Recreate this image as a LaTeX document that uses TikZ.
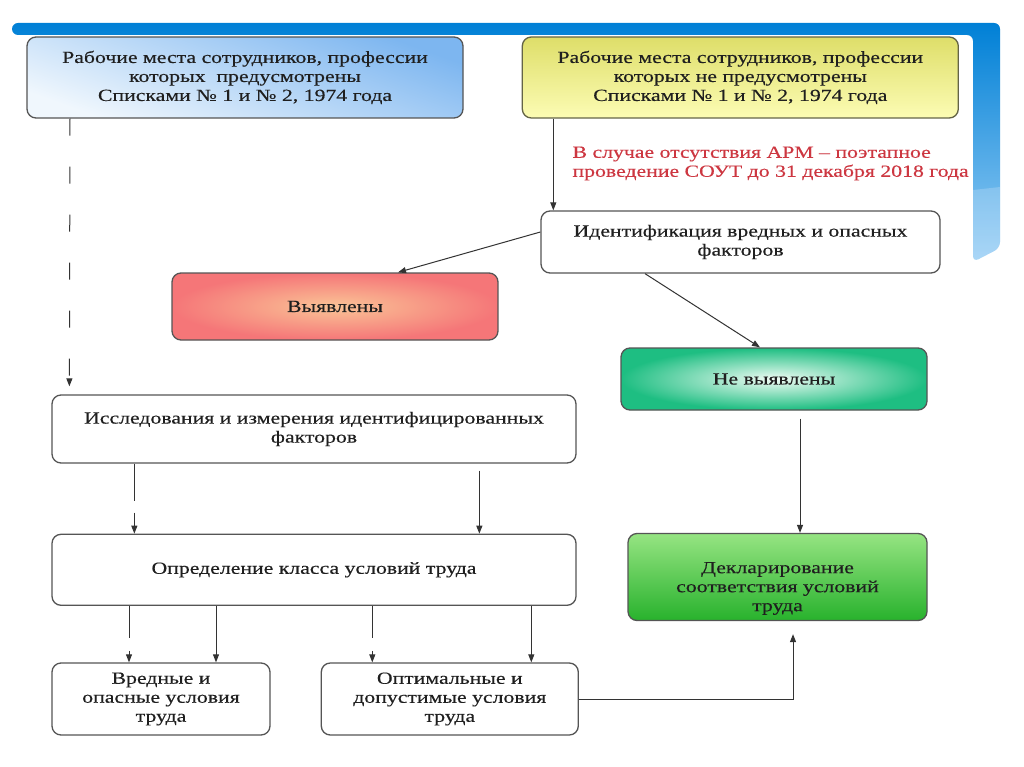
\documentclass[tikz,border=0pt]{standalone}
\usepackage{fontspec}
\setmainfont{Liberation Serif}[FakeStretch=1.28, FakeBold=0.3]
\usetikzlibrary{positioning, arrows.meta}

\definecolor{slideblue}{RGB}{0,128,214}
\definecolor{slidelight}{RGB}{150,205,245}
\definecolor{boxline}{RGB}{85,85,85}
\definecolor{notered}{RGB}{205,55,65}

\tikzset{
  box/.style={draw=boxline, line width=1.3pt, rounded corners=9pt, align=center,
    inner sep=2pt, text=black!88, font=\fontsize{17}{19}\selectfont},
  arr/.style={-{Triangle[length=8pt,width=6pt]}, line width=1pt, black!80},
  dasharr/.style={arr, dash pattern=on 17pt off 31pt},
  gaparr/.style={arr, dash pattern=on 37pt off 12pt},
  gaparrb/.style={arr, dash pattern=on 32pt off 13pt},
}

\begin{document}
\begin{tikzpicture}[x=1pt, y=-1pt]
  \useasboundingbox (0,0) rectangle (1024,767);
  \fill[white] (0,0) rectangle (1024,767);

  % slide frame
  \shade[top color=slideblue, bottom color=slidelight, rounded corners=6pt]
    (12,35) -- (12,23) -- (1000,23) -- (1000,248) -- (973,262) -- (973,35) -- cycle;
  \fill[white, opacity=0.2] (973,190) -- (1000,187) -- (1000,248) -- (973,262) -- cycle;

  % nodes
  \node[box, minimum width=436pt, minimum height=81pt,
        top color={rgb,255:red,125;green,182;blue,240}, bottom color={rgb,255:red,240;green,247;blue,253},
        shading angle=-20] (blue) at (245,77.5)
    {Рабочие места сотрудников, профессии\\которых~~предусмотрены\\Списками № 1 и № 2, 1974 года};
  \node[box, minimum width=436pt, minimum height=81pt, right=58pt of blue,
        draw={rgb,255:red,100;green,100;blue,70},
        top color={rgb,255:red,222;green,222;blue,105}, bottom color={rgb,255:red,252;green,252;blue,180}] (yel)
    {Рабочие места сотрудников, профессии\\которых не предусмотрены\\Списками № 1 и № 2, 1974 года};
  \node[anchor=north west, align=left, text=notered, font=\fontsize{17}{19}\selectfont] (note) at (569,143)
    {В случае отсутствия АРМ – поэтапное\\проведение СОУТ до 31 декабря 2018 года};
  \node[box, fill=white, minimum width=399pt, minimum height=62pt] (ident) at (740.5,242)
    {Идентификация вредных и опасных\\факторов};
  \node[box, minimum width=326pt, minimum height=67pt,
        inner color={rgb,255:red,250;green,196;blue,150}, outer color={rgb,255:red,245;green,118;blue,120}] (found) at (335,306.5)
    {Выявлены};
  \node[box, minimum width=306pt, minimum height=62pt,
        inner color={rgb,255:red,240;green,252;blue,244}, outer color={rgb,255:red,30;green,190;blue,130}] (notfound) at (774,379)
    {Не выявлены};
  \node[box, fill=white, minimum width=524pt, minimum height=68pt] (research) at (314,429)
    {Исследования и измерения идентифицированных\\факторов};
  \node[box, fill=white, minimum width=524pt, minimum height=71pt, below=70pt of research] (klass)
    {Определение класса условий труда};
  \node[box, fill=white, minimum width=218pt, minimum height=72pt] (harm) at (161,699)
    {Вредные и\\опасные условия\\труда};
  \node[box, fill=white, minimum width=257pt, minimum height=72pt, right=50pt of harm] (optim)
    {Оптимальные и\\допустимые условия\\труда};
  \node[box, minimum width=299pt, minimum height=87pt, text height=72pt,
        top color={rgb,255:red,150;green,228;blue,130}, middle color={rgb,255:red,236;green,250;blue,232},
        bottom color={rgb,255:red,40;green,178;blue,45}] (decl) at (777.5,577)
    {Декларирование\\соответствия условий\\труда};

  % connectors
  \draw[arr] ([xshift=-187pt]yel.south) -- ([xshift=-187pt]yel.south |- ident.north);
  \draw[arr] ([yshift=10pt]ident.west) -- ([xshift=63pt]found.north);
  \draw[arr] ([xshift=-95.5pt]ident.south) -- ([xshift=-14pt]notfound.north);
  \draw[dasharr, shorten >=8pt] ([xshift=-175pt]blue.south) -- ([xshift=18pt]research.north west);
  \draw[gaparr] ([xshift=83pt]research.south west) -- ([xshift=83pt]klass.north west);
  \draw[arr, shorten <=7pt] ([xshift=428pt]research.south west) -- ([xshift=428pt]klass.north west);
  \draw[arr, shorten <=8pt] ([xshift=26pt]notfound.south) -- ([xshift=26pt]notfound.south |- decl.north);
  \draw[gaparrb] ([xshift=-32pt]harm.north |- klass.south) -- ([xshift=-32pt]harm.north);
  \draw[arr] ([xshift=55pt]harm.north |- klass.south) -- ([xshift=55pt]harm.north);
  \draw[gaparrb] ([xshift=-77.5pt]optim.north |- klass.south) -- ([xshift=-77.5pt]optim.north);
  \draw[arr] ([xshift=81.5pt]optim.north |- klass.south) -- ([xshift=81.5pt]optim.north);
  \draw[arr, shorten >=13pt] (optim.east) -| ([xshift=15.5pt]decl.south);
\end{tikzpicture}
\end{document}
